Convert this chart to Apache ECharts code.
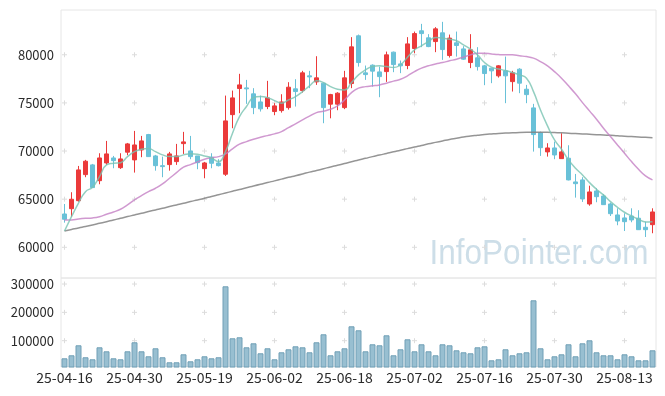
<!DOCTYPE html>
<html>
<head>
<meta charset="utf-8">
<script src="https://cdn.jsdelivr.net/npm/echarts@6/dist/echarts.min.js"></script>
<style>html,body{margin:0;padding:0;background:#fff}#c{width:665px;height:396px}</style>
</head>
<body>
<div id="c"></div>
<script>
const dates = ['25-04-16','25-04-17','25-04-18','25-04-21','25-04-22','25-04-23','25-04-24','25-04-25','25-04-28','25-04-29',
'25-04-30','25-05-02','25-05-07','25-05-08','25-05-09','25-05-12','25-05-13','25-05-14','25-05-15','25-05-16',
'25-05-19','25-05-20','25-05-21','25-05-22','25-05-23','25-05-26','25-05-27','25-05-28','25-05-29','25-05-30',
'25-06-02','25-06-04','25-06-05','25-06-09','25-06-10','25-06-11','25-06-12','25-06-13','25-06-16','25-06-17',
'25-06-18','25-06-19','25-06-20','25-06-23','25-06-24','25-06-25','25-06-26','25-06-27','25-06-30','25-07-01',
'25-07-02','25-07-03','25-07-04','25-07-07','25-07-08','25-07-09','25-07-10','25-07-11','25-07-14','25-07-15',
'25-07-16','25-07-17','25-07-18','25-07-21','25-07-22','25-07-23','25-07-24','25-07-25','25-07-28','25-07-29',
'25-07-30','25-07-31','25-08-01','25-08-04','25-08-05','25-08-06','25-08-07','25-08-08','25-08-11','25-08-12',
'25-08-13','25-08-14','25-08-18','25-08-19','25-08-20'];

const opens = [63460,64010,64840,67550,68560,66920,68760,69280,68270,69880,
69080,70110,71710,69490,68480,68590,68900,70770,70010,69490,
68170,69360,68760,67590,73780,76490,76560,75940,75100,74620,
74100,74200,74510,76460,76280,77810,77180,77050,74870,74870,
74510,77010,81970,78120,78920,78220,78250,80270,79050,78880,
80650,82490,81760,81370,82280,79920,81240,80610,79190,79680,
78850,78610,77810,78330,77210,78500,76420,74480,71910,69910,
70320,69210,69250,66790,67000,64500,65850,65330,64500,63360,
63050,63250,63020,62080,62350];
const closes = [62910,64990,68040,68940,66200,69280,69700,69000,69180,70740,
70630,71050,69420,68480,68380,69700,69490,70950,69420,68790,
68760,68730,68480,73130,75520,76870,76460,74510,74380,75520,
74690,75100,76630,76180,78120,77700,77600,74510,75860,76010,
77600,80820,79190,77940,78300,77730,79990,78980,78850,81130,
82200,82200,80850,82690,80540,81730,80960,79540,80510,78770,
78050,78330,78850,77810,78120,77050,75860,71710,70350,70320,
69590,69910,67000,66610,65020,65750,65260,64430,63490,62730,
62660,62840,61830,61830,63670];
const lows = [62560,63180,64740,67280,66160,66550,68560,68210,68140,69560,
67760,69360,69390,67960,67280,67960,68560,69700,69150,68110,
67170,68210,68400,67410,72370,73930,74900,73830,74100,74350,
73720,73990,74300,74620,76070,76530,76870,72890,73400,74240,
74350,76530,78770,77390,76690,75590,77180,78190,78090,78500,
80170,80790,80790,80270,79470,79710,79810,79470,78610,78360,
76840,77050,77630,74970,76180,76010,74970,69940,69490,69420,
69150,69210,66950,65160,64710,64320,64680,64400,63250,62290,
61690,62600,61800,61070,61460];
const highs = [64500,65720,68450,69080,68660,69770,71050,69490,69770,70840,
72090,71570,71780,69600,69420,69910,70740,71990,71570,69490,
68870,69770,69150,75760,76280,78020,77390,76530,75760,77290,
74970,75900,77150,77460,78330,78330,79850,77100,75940,76110,
78330,81830,82100,78880,79000,78770,80330,80330,79400,81830,
82410,83210,82140,82870,83420,82100,82410,80890,82140,80790,
78950,78610,78920,79810,78330,78610,76870,74900,72020,70810,
70980,71850,70600,67620,67280,66400,66130,65510,64640,64050,
63530,64050,63850,62660,64050];
const volumes = [37900,48500,83800,41500,34400,76700,62600,37900,34400,62600,
94400,62600,45000,73200,41500,23800,23800,52000,27300,34400,
45000,37900,41500,291900,108500,112000,76700,90800,55600,73200,
34400,59100,69700,80200,76700,59100,94400,122600,48500,62600,
73200,150800,136700,62600,87300,83800,119000,48500,69700,104900,
62600,87300,62600,48500,87300,83800,66100,59100,55600,76700,
80200,30800,34400,69700,48500,55600,59100,242500,73200,34400,
45000,52000,87300,45000,90800,101400,59100,48500,48500,34400,
52000,45000,30800,30800,66100];
const ma5 = [61690,63180,64600,65780,66240,67340,68560,68730,68790,69420,
69940,70190,70250,69940,69600,69420,69420,69600,69730,69670,
69490,69280,68900,69940,71850,73580,74620,75550,75660,75550,
75240,74970,75310,75660,76170,76770,77290,77110,76690,76420,
76350,77110,77910,78430,78770,78850,78770,78670,78950,79750,
80510,80930,81370,81790,81730,81620,81450,81030,80580,79990,
79190,78710,78530,78360,78150,77910,77570,76170,74270,72610,
71150,70190,69080,68210,67520,66720,66030,65440,64740,64160,
63640,63250,62910,62630,62660];
const ma20 = [62840,62840,62940,63010,63050,63180,63430,63670,63950,64400,
64920,65360,65780,66130,66580,67170,67750,68320,68590,68870,
69150,69310,69420,69700,70220,70710,70980,71230,71430,71600,
71780,72020,72430,72820,73230,73620,73990,74140,74350,74690,
75310,76070,76530,76690,76770,76870,77050,77260,77460,77810,
78250,78610,78850,79050,79190,79370,79540,79750,79990,80170,
80170,80090,80020,79990,79990,79890,79810,79650,79290,78850,
78250,77570,76770,75940,75030,74170,73310,72370,71500,70630,
69770,68900,68110,67410,67000];
const ma60 = [61690,61850,62010,62160,62320,62490,62660,62840,63010,63190,
63360,63530,63710,63880,64050,64230,64400,64570,64760,64920,
65090,65280,65460,65640,65820,66000,66190,66360,66540,66730,
66900,67080,67270,67440,67620,67810,67980,68160,68350,68520,
68700,68890,69060,69240,69420,69580,69750,69920,70080,70250,
70420,70580,70750,70900,71050,71200,71330,71460,71560,71640,
71720,71780,71830,71860,71900,71930,71950,71960,71960,71950,
71920,71890,71850,71810,71780,71740,71700,71670,71630,71580,
71540,71500,71460,71420,71390];

const priceTicks = [60000,65000,70000,75000,80000];
const volTicks = [100000,200000,300000];
const labelCats = [0,10,20,30,40,50,60,70,80];

const candle = dates.map((d,i)=>[opens[i],closes[i],lows[i],highs[i]]);
const crossP = [], crossV = [];
labelCats.forEach(c=>{priceTicks.forEach(v=>crossP.push([c,v])); volTicks.forEach(v=>crossV.push([c,v]));});

function crossItem(params, api){
  const p = api.coord([api.value(0), api.value(1)]);
  const s = {stroke:'#dcdcdc', lineWidth:1};
  return {type:'group', children:[
    {type:'line', shape:{x1:p[0]-2.5,y1:p[1],x2:p[0]+2.5,y2:p[1]}, style:s},
    {type:'line', shape:{x1:p[0],y1:p[1]-2.5,x2:p[0],y2:p[1]+2.5}, style:s}
  ]};
}

const font = '"Noto Sans CJK KR", "Noto Sans", sans-serif';
const chart = echarts.init(document.getElementById('c'));
chart.setOption({
  animation:false,
  backgroundColor:'#fff',
  grid:[
    {left:61, width:595, top:10, height:268, show:true, borderColor:'#e6e6e6', borderWidth:1},
    {left:61, width:595, top:278, height:89, show:true, borderColor:'#e6e6e6', borderWidth:1}
  ],
  xAxis:[
    {type:'category', gridIndex:0, data:dates, boundaryGap:true, axisLine:{show:false}, axisTick:{show:false}, axisLabel:{show:false}, splitLine:{show:false}},
    {type:'category', gridIndex:1, data:dates, boundaryGap:true, axisLine:{show:false}, axisTick:{show:false},
     axisLabel:{interval:9, fontSize:14, color:'#2b2b2b', fontFamily:font, margin:4}, splitLine:{show:false}}
  ],
  yAxis:[
    {type:'value', gridIndex:0, min:56810, max:84650, splitNumber:5, axisLine:{show:false}, axisTick:{show:false}, splitLine:{show:false},
     axisLabel:{fontSize:13, color:'#2b2b2b', fontFamily:font, margin:7, showMinLabel:false, showMaxLabel:false,
       formatter:v=> (v%5000===0 ? String(v) : '')}},
    {type:'value', gridIndex:1, min:7200, max:321200, splitNumber:3, axisLine:{show:false}, axisTick:{show:false}, splitLine:{show:false},
     axisLabel:{fontSize:13, color:'#2b2b2b', fontFamily:font, margin:7, showMinLabel:false, showMaxLabel:false,
       formatter:v=> (v%100000===0 && v>0 ? String(v) : '')}}
  ],
  graphic:[{type:'text', x:539, y:254, scaleY:1.1, z:0, silent:true,
    style:{text:'InfoPointer.com', font:'31.5px "Liberation Sans", sans-serif', fill:'#cddee8', align:'center', verticalAlign:'middle'}}],
  series:[
    {type:'custom', xAxisIndex:0, yAxisIndex:0, data:crossP, renderItem:crossItem, silent:true, z:1},
    {type:'custom', xAxisIndex:1, yAxisIndex:1, data:crossV, renderItem:crossItem, silent:true, z:1},
    {type:'candlestick', xAxisIndex:0, yAxisIndex:0, data:candle, barWidth:5, z:3,
     itemStyle:{color:'#eb3a3a', color0:'#69c1d8', borderColor:'#eb3a3a', borderColor0:'#69c1d8', borderWidth:1}},
    {type:'line', xAxisIndex:0, yAxisIndex:0, data:ma60, smooth:true, symbol:'none', z:4, lineStyle:{color:'rgba(130,130,130,0.85)', width:1.5}},
    {type:'line', xAxisIndex:0, yAxisIndex:0, data:ma20, smooth:true, symbol:'none', z:4, lineStyle:{color:'rgba(196,128,196,0.8)', width:1.5}},
    {type:'line', xAxisIndex:0, yAxisIndex:0, data:ma5, smooth:true, symbol:'none', z:4, lineStyle:{color:'rgba(120,195,178,0.8)', width:1.5}},
    {type:'bar', xAxisIndex:1, yAxisIndex:1, data:volumes, barWidth:6, z:3,
     itemStyle:{color:'#98bfd1', borderColor:'#709fb6', borderWidth:1}}
  ]
});
</script>
</body>
</html>
